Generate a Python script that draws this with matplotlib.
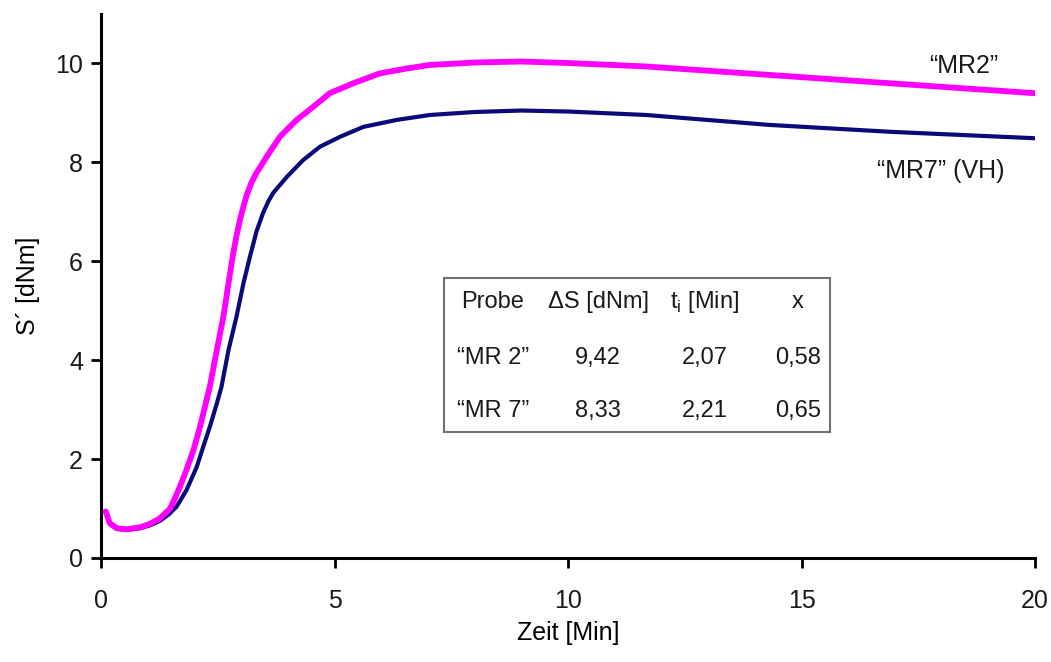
import matplotlib
matplotlib.use("Agg")
import matplotlib.pyplot as plt
import numpy as np

plt.rcParams['font.family'] = ['Liberation Sans', 'DejaVu Sans']
plt.rcParams['mathtext.fontset'] = 'custom'
plt.rcParams['mathtext.rm'] = 'Liberation Sans'
plt.rcParams['text.color'] = '#1a1a1a'
plt.rcParams['xtick.labelcolor'] = '#1a1a1a'
plt.rcParams['ytick.labelcolor'] = '#1a1a1a'

# MR2 (magenta)
t_mr2 = [0.10, 0.19, 0.34, 0.55, 0.84, 1.05, 1.26, 1.48, 1.58, 1.69, 1.83, 1.98,
         2.12, 2.26, 2.33, 2.48, 2.62, 2.73, 2.83, 2.90, 2.98, 3.05, 3.12, 3.22,
         3.33, 3.55, 3.83, 4.19, 4.55, 4.90, 5.40, 5.97, 6.55, 7.04, 8.0, 9.0,
         10.0, 11.67, 14.3, 16.9, 20.0]
s_mr2 = [0.94, 0.70, 0.60, 0.58, 0.62, 0.69, 0.80, 1.00, 1.20, 1.44, 1.78, 2.18,
         2.65, 3.19, 3.46, 4.20, 4.87, 5.55, 6.15, 6.50, 6.85, 7.10, 7.33, 7.58,
         7.78, 8.11, 8.51, 8.85, 9.12, 9.39, 9.59, 9.79, 9.89, 9.96, 10.01, 10.03,
         10.00, 9.93, 9.76, 9.59, 9.39]

# MR7 (navy)
t_mr7 = [0.10, 0.19, 0.34, 0.55, 0.84, 1.05, 1.26, 1.45, 1.62, 1.83, 2.05, 2.19,
         2.33, 2.48, 2.58, 2.73, 2.90, 3.05, 3.19, 3.33, 3.47, 3.58, 3.69, 3.98,
         4.33, 4.69, 5.12, 5.62, 6.33, 7.04, 8.0, 9.0, 10.0, 11.67, 14.3, 16.9, 20.0]
s_mr7 = [0.93, 0.69, 0.59, 0.57, 0.60, 0.66, 0.75, 0.88, 1.04, 1.37, 1.84, 2.25,
         2.65, 3.12, 3.46, 4.20, 4.87, 5.55, 6.09, 6.60, 6.97, 7.20, 7.38, 7.70,
         8.04, 8.31, 8.51, 8.71, 8.85, 8.95, 9.01, 9.04, 9.02, 8.95, 8.75, 8.61, 8.48]

table_header = ["Probe", "\u0394S [dNm]", "t$_\\mathregular{i}$ [Min]", "x"]
table_rows = [["\u201cMR 2\u201d", "9,42", "2,07", "0,58"],
              ["\u201cMR 7\u201d", "8,33", "2,21", "0,65"]]

fig = plt.figure(figsize=(10.51, 6.62), dpi=100)
ax = fig.add_axes([0.0961, 0.1571, 0.8887, 0.8225])

ax.plot(t_mr7, s_mr7, color='#0a0a78', lw=3.0, solid_capstyle='round')
ax.plot(t_mr2, s_mr2, color='#ff00ff', lw=4.2, solid_capstyle='round')

ax.set_xlim(0, 20)
ax.set_ylim(0, 11)
ax.set_xticks([0, 5, 10, 15, 20])
ax.set_yticks([0, 2, 4, 6, 8, 10])
for side in ['top', 'right']:
    ax.spines[side].set_visible(False)
for side in ['left', 'bottom']:
    ax.spines[side].set_linewidth(2.2)
ax.tick_params(axis='both', direction='out', length=7, width=2, labelsize=18)
ax.tick_params(axis='x', pad=15)
ax.tick_params(axis='y', pad=6)

ax.set_xlabel("Zeit [Min]", fontsize=18, labelpad=6)
ax.set_ylabel("S\u00b4 [dNm]", fontsize=18, labelpad=11)

ax.text(18.48, 9.94, "\u201cMR2\u201d", fontsize=18, ha='center', va='center')
ax.text(17.99, 7.82, "\u201cMR7\u201d (VH)", fontsize=18, ha='center', va='center')

# table box, placed in pixel space of the figure
W, H = 1051, 662
def fx(px):
    return px / W
def fy(py):
    return 1 - py / H

box = plt.Rectangle((fx(444), fy(432)), fx(830) - fx(444), fy(278) - fy(432),
                    transform=fig.transFigure, fill=False, edgecolor='#707070', lw=1.5)
fig.patches.append(box)

col_x = [493, 598, 705, 798]
row_y = [302, 358, 411]
for j, txt in enumerate(table_header):
    fig.text(fx(col_x[j]), fy(row_y[0]), txt, fontsize=17, ha='center', va='center')
for i, row in enumerate(table_rows):
    for j, txt in enumerate(row):
        fig.text(fx(col_x[j]), fy(row_y[i + 1]), txt, fontsize=17, ha='center', va='center')

fig.savefig("out.png", dpi=100)
